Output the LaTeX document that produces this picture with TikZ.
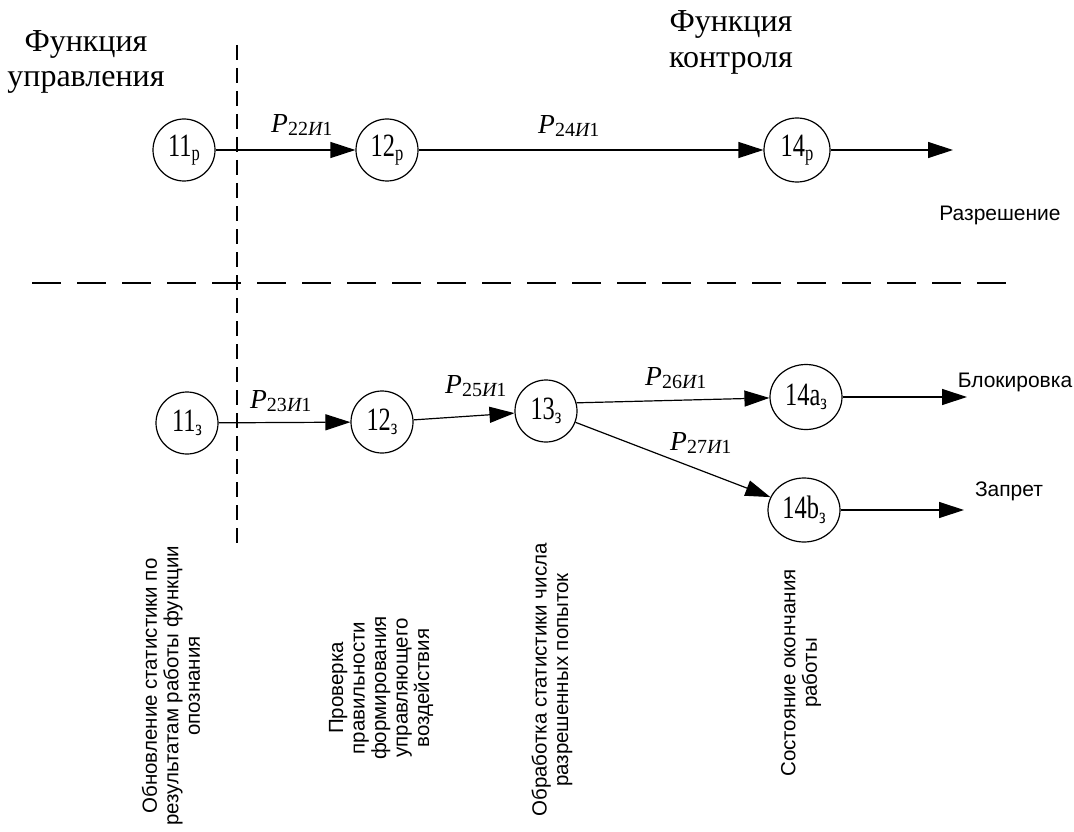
\documentclass[tikz,border=0pt]{standalone}
\usepackage{fontspec}
\setmainfont{Liberation Serif}
\newfontfamily\condserif[FakeStretch=0.75]{Liberation Serif}
\newfontfamily\arialfont{Liberation Sans}
\usetikzlibrary{arrows.meta,shapes.geometric}

% state name: condensed number with a lowered index
\newcommand\stname[2]{{\condserif\fontsize{32.5}{32.5}\selectfont #1\raisebox{-4.5pt}{\fontsize{22}{22}\selectfont #2}}}
% transition probability P_{..И1}
\newcommand\plabel[1]{{\fontsize{27.5}{27.5}\selectfont\itshape P}\raisebox{-3pt}{\fontsize{20}{20}\selectfont #1{\itshape И}1}}

\begin{document}
\begin{tikzpicture}[x=1pt,y=-1pt,
  state/.style={ellipse, draw, line width=1.2pt, minimum width=62pt, minimum height=62pt, inner sep=0pt},
  flow/.style={line width=1.2pt, -{Triangle[length=25pt,width=16pt]}},
  plbl/.style={anchor=base west, inner sep=0pt},
  ttl/.style={anchor=base, inner sep=0pt, font=\fontsize{32}{36}\selectfont},
  outlbl/.style={inner sep=0pt, font=\arialfont\fontsize{21}{22}\selectfont},
  vtext/.style={rotate=90, align=center, inner sep=0pt, font=\arialfont\fontsize{20.5}{21.5}\selectfont},
  hdivider/.style={line width=1.2pt, dash pattern=on 29pt off 16pt},
  vdivider/.style={line width=1.2pt, dash pattern=on 15pt off 8pt}]

\useasboundingbox (0,0) rectangle (1074,832);

% titles of the two functions
\node[ttl] (ttlA1) at (86,52) {Функция};
\node[ttl] (ttlA2) at (86,87) {управления};
\node[ttl] (ttlB1) at (731,32) {Функция};
\node[ttl] (ttlB2) at (731,68) {контроля};

% dividers
\coordinate (vd1) at (237,45);
\coordinate (vd2) at (237,545);
\coordinate (hd1) at (32,283);
\coordinate (hd2) at (1015,283);
\draw[vdivider] (vd1) -- (vd2);
\draw[hdivider] (hd1) -- (hd2);

% permission branch
\node[state] (n11p) at (184,150) {\stname{11}{р}};
\node[state] (n12p) at (387,150) {\stname{12}{р}};
\node[state, minimum width=66pt, minimum height=64pt] (n14p) at (797,150) {\stname{14}{р}};
\coordinate (e14p) at (953,150);

% prohibition branch
\node[state] (n11z) at (187,423) {\stname{11}{з}};
\node[state] (n12z) at (382,422) {\stname{12}{з}};
\node[state] (n13z) at (546,411) {\stname{13}{з}};
\node[state, minimum width=72pt, minimum height=65pt] (n14a) at (806,397) {\stname{14a}{з}};
\node[state, minimum width=72pt, minimum height=64pt] (n14b) at (804,510) {\stname{14b}{з}};
\coordinate (e14a) at (967,397);
\coordinate (e14b) at (964,510);

% transitions
\draw[flow] (n11p) -- (n12p);
\draw[flow] (n12p) -- (n14p);
\draw[flow] (n14p) -- (e14p);
\draw[flow] (n11z) -- (n12z);
\draw[flow] (n12z) -- (n13z);
\draw[flow] (n13z.15) -- (n14a);
\draw[flow] (n13z) -- (n14b);
\draw[flow] (n14a) -- (e14a);
\draw[flow] (n14b) -- (e14b);

% transition labels
\node[plbl] (p22) at (271,133) {\plabel{22}};
\node[plbl] (p24) at (538,134) {\plabel{24}};
\node[plbl] (p23) at (250,408) {\plabel{23}};
\node[plbl] (p25) at (445,393) {\plabel{25}};
\node[plbl] (p26) at (645,385) {\plabel{26}};
\node[plbl] (p27) at (670,450) {\plabel{27}};

% outcomes
\node[outlbl] (oPerm) at (1000,215) {Разрешение};
\node[outlbl] (oBlock) at (1015,382) {Блокировка};
\node[outlbl] (oDeny) at (1009,491) {Запрет};

% stage descriptions
\node[vtext] (d1) at (171,686) {Обновление статистики по\\результатам работы функции\\опознания};
\node[vtext] (d2) at (381,688) {Проверка\\правильности\\формирования\\управляющего\\воздействия};
\node[vtext] (d3) at (552,680) {Обработка статистики числа\\разрешенных попыток};
\node[vtext] (d4) at (801,673) {Состояние окончания\\работы};
\end{tikzpicture}
\end{document}
